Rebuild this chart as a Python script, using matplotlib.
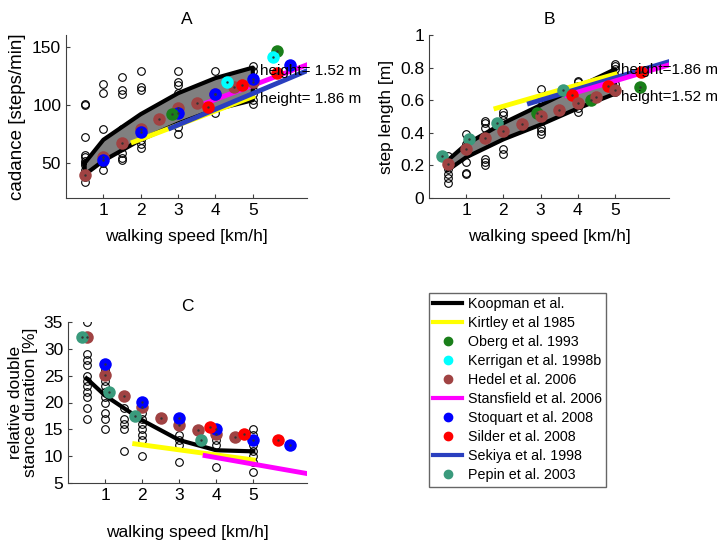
import numpy as np
import matplotlib
matplotlib.use('Agg')
import matplotlib.pyplot as plt
from matplotlib.lines import Line2D

# colours (matlab-ish)
c_koop = 'black'
c_kirt = '#ffff00'
c_ober = '#1a7f1a'
c_kerr = '#00ffff'
c_hede = '#a04343'
c_stan = '#ff00ff'
c_stoq = '#0000ff'
c_sild = '#ff0000'
c_seki = '#2a3fbf'
c_pepi = '#3a9a7c'

# ---------- panel A: cadance ----------
koop_x = [0.5, 1, 2, 3, 4, 5]
a_koop_hi = [50, 70, 92, 110, 123, 132]
a_koop_lo = [40, 52, 70, 84, 96, 104]

a_raw = {
    0.5: [101, 100, 72, 57, 55, 52, 50, 48, 44, 40, 38, 34],
    1: [118, 110, 79, 62, 57, 50, 44],
    1.5: [124, 113, 109, 79, 76, 73, 64, 59, 54, 53],
    2: [129, 115, 113, 81, 78, 70, 66, 63],
    3: [129, 120, 117, 110, 101, 96, 87, 81, 75],
    4: [129, 119, 113, 107, 103, 93],
    5: [133, 129, 121, 117, 113, 109, 104, 101],
}

a_hede_x = [0.5, 1, 1.5, 2, 2.5, 3, 3.5, 4, 4.5, 5]
a_hede_y = [40, 55, 67, 79, 88, 97, 102, 109, 115, 120]
a_stoq_x = [1, 2, 3, 4, 5, 6]
a_stoq_y = [53, 77, 93, 109, 122, 134]
a_ober_x = [2.85, 5.65]
a_ober_y = [92, 146]
a_kerr_x = [4.3, 5.55]
a_kerr_y = [120, 141]
a_sild_x = [3.8, 4.7, 5.65]
a_sild_y = [98, 117, 127]
a_kirt_x = [1.8, 5]
a_kirt_y = [68, 107]
a_seki_x = [2.8, 6.5]
a_seki_y = [80, 130]
a_stan_x = [3.7, 6.5]
a_stan_y = [101, 135]

# ---------- panel B: step length ----------
b_koop_hi = [0.23, 0.33, 0.46, 0.57, 0.68, 0.79]
b_koop_lo = [0.17, 0.25, 0.36, 0.45, 0.55, 0.64]

b_raw = {
    0.5: [0.26, 0.2, 0.18, 0.15, 0.12, 0.09],
    1: [0.39, 0.33, 0.27, 0.22, 0.155, 0.145],
    1.5: [0.47, 0.46, 0.43, 0.37, 0.34, 0.24, 0.22, 0.2],
    2: [0.53, 0.51, 0.48, 0.45, 0.3, 0.27],
    3: [0.67, 0.6, 0.56, 0.54, 0.52, 0.43, 0.41, 0.39],
    4: [0.72, 0.71, 0.69, 0.66, 0.62, 0.55, 0.53],
    5: [0.82, 0.81, 0.79, 0.75, 0.7, 0.65],
}

b_hede_x = [0.5, 1, 1.5, 2, 2.5, 3, 3.5, 4, 4.5, 5]
b_hede_y = [0.21, 0.3, 0.37, 0.41, 0.455, 0.5, 0.54, 0.585, 0.62, 0.665]
b_pepi_x = [0.35, 1.07, 1.82, 3.6]
b_pepi_y = [0.26, 0.36, 0.46, 0.66]
b_ober_x = [2.9, 4.35, 5.68]
b_ober_y = [0.52, 0.6, 0.68]
b_sild_x = [3.85, 4.8, 5.7]
b_sild_y = [0.63, 0.69, 0.77]
b_kirt_x = [1.8, 5]
b_kirt_y = [0.55, 0.76]
b_seki_x = [2.7, 6.5]
b_seki_y = [0.58, 0.84]
b_stan_x = [3.7, 6.5]
b_stan_y = [0.63, 0.82]

# ---------- panel C: double stance ----------
c_koop_y = [24.5, 21.3, 16.7, 13.0, 11.1, 10.9]

c_raw = {
    0.5: [35, 29, 28, 27, 25, 24, 23, 22, 21, 19, 17],
    1: [26, 25, 24, 23, 22, 21, 20, 18, 17, 15],
    1.5: [21, 19, 17, 16, 15, 11],
    2: [19, 18, 17, 16, 15, 14, 13, 10],
    3: [16, 14, 13, 12, 9],
    4: [15, 14, 13, 12, 8],
    5: [15, 14, 13, 12, 11, 10, 9, 7],
}

c_hede_x = [0.5, 1, 1.5, 2, 2.5, 3, 3.5, 4, 4.5]
c_hede_y = [32.2, 25.1, 21.2, 19.2, 17.1, 15.8, 14.9, 14.1, 13.5]
c_stoq_x = [1, 2, 3, 4, 5, 6]
c_stoq_y = [27.1, 20.1, 17.1, 15.0, 13.0, 12.1]
c_pepi_x = [0.38, 1.1, 1.82, 3.6]
c_pepi_y = [32.2, 22, 17.5, 13]
c_sild_x = [3.82, 4.74, 5.67]
c_sild_y = [15.5, 14.1, 13]
c_kirt_x = [1.8, 5]
c_kirt_y = [12.3, 9.3]
c_stan_x = [3.7, 6.5]
c_stan_y = [10.1, 6.7]

legend_labels = ['Koopman et al.', 'Kirtley et al 1985', 'Oberg et al. 1993',
                 'Kerrigan et al. 1998b', 'Hedel et al. 2006', 'Stansfield et al. 2006',
                 'Stoquart et al. 2008', 'Silder et al. 2008', 'Sekiya et al. 1998',
                 'Pepin et al. 2003']

plt.rcParams['font.family'] = ['Liberation Sans', 'DejaVu Sans']
fig = plt.figure(figsize=(7.22, 5.41), dpi=100)

W, H = 722.0, 541.0
axA = fig.add_axes([66 / W, 1 - 198 / H, 241 / W, 163 / H])
axB = fig.add_axes([429 / W, 1 - 198 / H, 240 / W, 163 / H])
axC = fig.add_axes([68 / W, 1 - 483 / H, 239 / W, 161 / H])

ms_dot = 9
ms_open = 5.5


def raw_points(ax, raw):
    for x, ys in raw.items():
        ax.plot([x] * len(ys), ys, 'o', mfc='none', mec='black', ms=ms_open, mew=0.8, zorder=2)


def band(ax, hi, lo):
    ax.fill_between(koop_x, lo, hi, color='#808080', zorder=3)
    xs = koop_x + koop_x[::-1] + [koop_x[0]]
    ys = hi + lo[::-1] + [hi[0]]
    ax.plot(xs, ys, '-', color='black', lw=3, zorder=4)


def dots(ax, x, y, c):
    ax.plot(x, y, 'o', color=c, ms=ms_dot, mec='none', zorder=5)
    ax.plot(x, y, '.', color='#333333', ms=1.5, zorder=6)


def seg(ax, x, y, c):
    ax.plot(x, y, '-', color=c, lw=3.5, zorder=4.5)


def style(ax):
    for s in ['top', 'right']:
        ax.spines[s].set_visible(False)
    ax.spines['left'].set_color('#404040')
    ax.spines['bottom'].set_color('#404040')
    ax.tick_params(direction='in', labelsize=12.5, length=3, color='#404040')
    ax.set_xlim(0, 6.45)
    ax.set_xticks([1, 2, 3, 4, 5])
    ax.set_xlabel('walking speed [km/h]', fontsize=12.5, labelpad=8)


# A
raw_points(axA, a_raw)
band(axA, a_koop_hi, a_koop_lo)
seg(axA, a_kirt_x, a_kirt_y, c_kirt)
seg(axA, a_seki_x, a_seki_y, c_seki)
seg(axA, a_stan_x, a_stan_y, c_stan)
dots(axA, a_hede_x, a_hede_y, c_hede)
dots(axA, a_stoq_x, a_stoq_y, c_stoq)
dots(axA, a_ober_x, a_ober_y, c_ober)
dots(axA, a_kerr_x, a_kerr_y, c_kerr)
dots(axA, a_sild_x, a_sild_y, c_sild)
axA.text(5.18, 129, 'height= 1.52 m', fontsize=11, va='center', zorder=7)
axA.text(5.18, 105, 'height= 1.86 m', fontsize=11, va='center', zorder=7)
axA.set_ylim(20, 160)
axA.set_yticks([50, 100, 150])
axA.set_ylabel('cadance [steps/min]', fontsize=13.5)
axA.set_title('A', fontsize=12.5, pad=8)
style(axA)

# B
raw_points(axB, b_raw)
band(axB, b_koop_hi, b_koop_lo)
seg(axB, b_kirt_x, b_kirt_y, c_kirt)
seg(axB, b_seki_x, b_seki_y, c_seki)
seg(axB, b_stan_x, b_stan_y, c_stan)
dots(axB, b_pepi_x, b_pepi_y, c_pepi)
dots(axB, b_ober_x, b_ober_y, c_ober)
dots(axB, b_sild_x, b_sild_y, c_sild)
dots(axB, b_hede_x, b_hede_y, c_hede)
axB.text(5.15, 0.785, 'height=1.86 m', fontsize=11, va='center', zorder=7)
axB.text(5.15, 0.62, 'height=1.52 m', fontsize=11, va='center', zorder=7)
axB.set_ylim(0, 1)
axB.set_yticks([0, 0.2, 0.4, 0.6, 0.8, 1])
axB.set_yticklabels(['0', '0.2', '0.4', '0.6', '0.8', '1'])
axB.set_ylabel('step length [m]', fontsize=12.5)
axB.set_title('B', fontsize=12.5, pad=8)
style(axB)

# C
raw_points(axC, c_raw)
axC.plot(koop_x, c_koop_y, '-', color='black', lw=3, zorder=4)
seg(axC, c_kirt_x, c_kirt_y, c_kirt)
seg(axC, c_stan_x, c_stan_y, c_stan)
dots(axC, c_hede_x, c_hede_y, c_hede)
dots(axC, c_stoq_x, c_stoq_y, c_stoq)
dots(axC, c_pepi_x, c_pepi_y, c_pepi)
dots(axC, c_sild_x, c_sild_y, c_sild)
axC.set_ylim(5, 35)
axC.set_yticks([5, 10, 15, 20, 25, 30, 35])
axC.set_ylabel('relative double\nstance duration [%]', fontsize=12.5, linespacing=1.0)
axC.set_title('C', fontsize=12.5, pad=8)
style(axC)
axC.xaxis.labelpad = 16

# legend
handles = [
    Line2D([], [], color=c_koop, lw=3),
    Line2D([], [], color=c_kirt, lw=3),
    Line2D([], [], ls='none', marker='o', color=c_ober, ms=6),
    Line2D([], [], ls='none', marker='o', color=c_kerr, ms=6),
    Line2D([], [], ls='none', marker='o', color=c_hede, ms=6),
    Line2D([], [], color=c_stan, lw=3),
    Line2D([], [], ls='none', marker='o', color=c_stoq, ms=6),
    Line2D([], [], ls='none', marker='o', color=c_sild, ms=6),
    Line2D([], [], color=c_seki, lw=3),
    Line2D([], [], ls='none', marker='o', color=c_pepi, ms=6),
]
leg = fig.legend(handles, legend_labels, loc='upper left',
                 bbox_to_anchor=(429 / W, 1 - 293 / H), fontsize=10.3,
                 frameon=True, fancybox=False, edgecolor='#404040',
                 handlelength=2.0, handletextpad=0.4, labelspacing=0.35,
                 borderpad=0.3, borderaxespad=0)
leg.get_frame().set_linewidth(1.0)

fig.savefig('out.png', dpi=100)
